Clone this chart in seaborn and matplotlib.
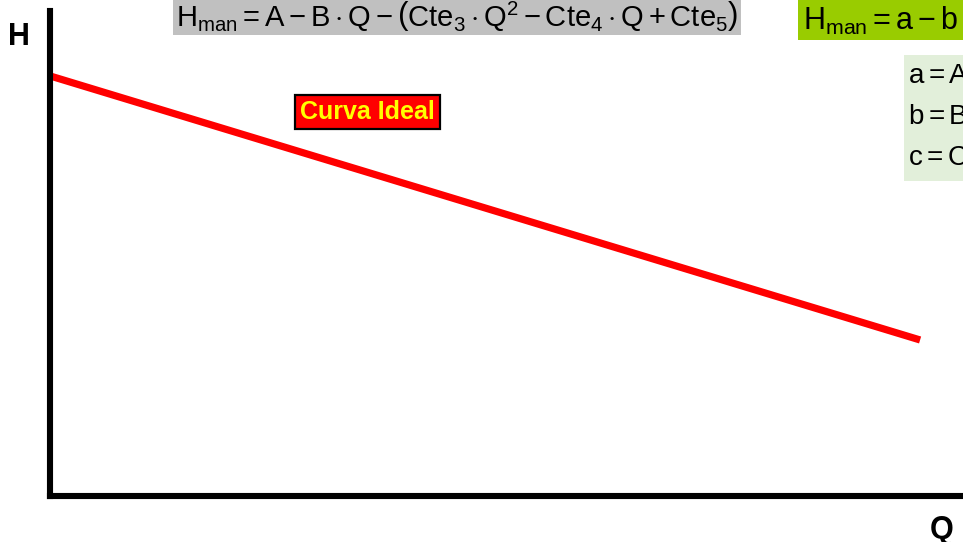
import matplotlib
matplotlib.use("Agg")
import matplotlib.pyplot as plt
import seaborn as sns
import pandas as pd
from matplotlib.patches import Rectangle

# Ideal pump curve: straight head-flow line
caudal = [0.0, 95.3]
altura = [86.6, 32.1]

sns.set_style("white")
plt.rcParams["font.family"] = ["Liberation Sans", "DejaVu Sans"]
plt.rcParams["text.color"] = "black"
plt.rcParams["mathtext.fontset"] = "custom"
plt.rcParams["mathtext.rm"] = "Liberation Sans"
plt.rcParams["mathtext.it"] = "Liberation Sans"
plt.rcParams["mathtext.bf"] = "Liberation Sans:bold"

W, H = 963, 542
fig = plt.figure(figsize=(W / 100, H / 100), dpi=100)

def fx(px):
    return px / W

def fy(py):
    return 1 - py / H

ax = fig.add_axes([fx(50), fy(495.5), fx(963) - fx(50), fy(11) - fy(495.5)])
df = pd.DataFrame({"Q": caudal, "H": altura})
sns.lineplot(data=df, x="Q", y="H", ax=ax, color="#ff0000", linewidth=5.2,
             solid_capstyle="butt")
ax.set_xlim(0, 100)
ax.set_ylim(0, 100)
ax.set_xticks([])
ax.set_yticks([])
ax.set_xlabel("")
ax.set_ylabel("")
for side in ("top", "right"):
    ax.spines[side].set_visible(False)
for side in ("left", "bottom"):
    ax.spines[side].set_linewidth(4.4)
    ax.spines[side].set_color("black")
    ax.spines[side].set_zorder(5)

# Axis names
fig.text(fx(19), fy(37), "H", fontsize=22, fontweight="bold", ha="center", va="center")
fig.text(fx(942), fy(530), "Q", fontsize=22, fontweight="bold", ha="center", va="center")

# Curve label
fig.text(fx(367.5), fy(112), "Curva Ideal", fontsize=18, fontweight="bold",
         color="#ffff00", ha="center", va="center",
         bbox=dict(boxstyle="square,pad=0.2", facecolor="#ff0000",
                   edgecolor="black", linewidth=1.6))

# Formula boxes
fig.patches.append(Rectangle((fx(173), fy(35)), fx(741) - fx(173), fy(0) - fy(35),
                             transform=fig.transFigure, facecolor="#c0c0c0",
                             edgecolor="none", zorder=0))
fig.text(fx(176), fy(17),
         r"$\mathrm{H_{man}=A-B\cdot Q-\left(Cte_3\cdot Q^2-Cte_4\cdot Q+Cte_5\right)}$",
         fontsize=21, ha="left", va="center")

fig.patches.append(Rectangle((fx(798), fy(40)), fx(963) - fx(798), fy(0) - fy(40),
                             transform=fig.transFigure, facecolor="#99cc00",
                             edgecolor="none", zorder=0))
fig.text(fx(803), fy(19), r"$\mathrm{H_{man}=a-b\cdot Q-c\cdot Q^2}$",
         fontsize=22, ha="left", va="center")

fig.patches.append(Rectangle((fx(904), fy(181)), fx(963) - fx(904), fy(55) - fy(181),
                             transform=fig.transFigure, facecolor="#e2efda",
                             edgecolor="none", zorder=0))
for py, s in [(76, r"$\mathrm{a=A-Cte_5}$"),
              (117, r"$\mathrm{b=B-Cte_4}$"),
              (158, r"$\mathrm{c=Cte_3}$")]:
    fig.text(fx(908), fy(py), s, fontsize=20, ha="left", va="center")

fig.savefig("out.png", dpi=100)
